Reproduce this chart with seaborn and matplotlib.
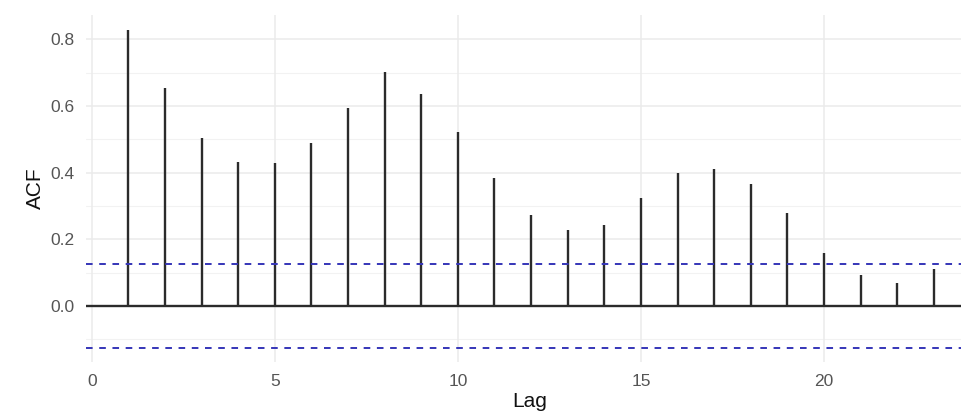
import matplotlib
matplotlib.use("Agg")
import matplotlib.pyplot as plt
import seaborn as sns
import numpy as np
import pandas as pd

lags = list(range(1, 24))
acf_values = [0.828, 0.653, 0.503, 0.431, 0.428, 0.490, 0.595, 0.703, 0.636, 0.523,
              0.385, 0.273, 0.228, 0.243, 0.323, 0.398, 0.410, 0.365, 0.278, 0.160,
              0.093, 0.068, 0.110]
ci_bound = 0.125
x_ticks = [0, 5, 10, 15, 20]
y_ticks = [0.0, 0.2, 0.4, 0.6, 0.8]
y_minor = [-0.1, 0.1, 0.3, 0.5, 0.7]

df = pd.DataFrame({"Lag": lags, "ACF": acf_values})

sns.set_theme(style="white")
plt.rcParams['font.family'] = ['Liberation Sans', 'DejaVu Sans']

fig = plt.figure(figsize=(9.61, 4.2), dpi=100)
W, H = 961, 420
left, right, top, bottom = 86, 974, 15, 362
ax = fig.add_axes([left / W, 1 - bottom / H, (right - left) / W, (bottom - top) / H])

# grid
for yv in y_minor:
    ax.axhline(yv, color="#f2f2f2", lw=0.8, zorder=0)
for yv in y_ticks:
    ax.axhline(yv, color="#ebebeb", lw=1.1, zorder=0)
for xv in x_ticks:
    ax.axvline(xv, color="#ebebeb", lw=1.1, zorder=0)

ax.vlines(df["Lag"], 0, df["ACF"], color="#2b2b2b", lw=1.7, zorder=3)
sns.lineplot(x=[-0.16, 24.1], y=[0, 0], ax=ax, color="#2b2b2b", lw=1.7, zorder=3)
ax.axhline(ci_bound, color="#3535b8", lw=1.4, ls=(0, (3.4, 3.4)), zorder=4)
ax.axhline(-ci_bound, color="#3535b8", lw=1.4, ls=(0, (3.4, 3.4)), zorder=4)

ax.set_xlim(-0.16, 24.1)
ax.set_ylim(-0.168, 0.873)
ax.set_xticks(x_ticks)
ax.set_xticklabels([str(t) for t in x_ticks])
ax.set_yticks(y_ticks)
ax.set_yticklabels([f"{t:.1f}" for t in y_ticks])
ax.tick_params(axis="both", length=0, labelsize=12.5, labelcolor="#555555")
ax.tick_params(axis="y", pad=8)
ax.tick_params(axis="x", pad=9)
for s in ax.spines.values():
    s.set_visible(False)
ax.grid(False)

ax.set_xlabel("Lag", fontsize=15, color="#111111", labelpad=2)
ax.set_ylabel("ACF", fontsize=15, color="#111111", labelpad=4)

fig.savefig("out.png", dpi=100)
